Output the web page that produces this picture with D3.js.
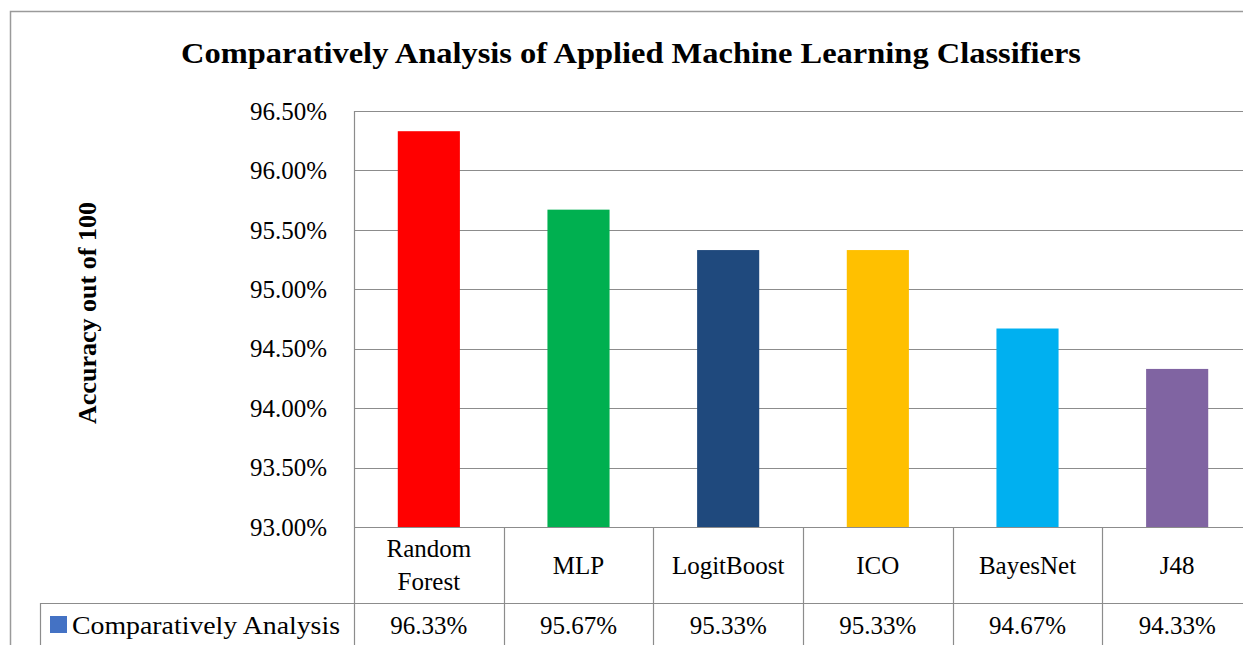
<!DOCTYPE html>
<html lang="en">
<head>
    <meta charset="UTF-8">
    <title>Comparatively Analysis of Applied Machine Learning Classifiers</title>
    <script src="https://d3js.org/d3.v7.min.js"></script>
    <style>
        body {
            margin: 0;
            background-color: white;
            overflow: hidden;
        }
        svg text {
            font-family: "Liberation Serif", "DejaVu Serif", serif;
            fill: #000;
        }
    </style>
</head>
<body>
    <div id="chart"></div>
    <script>
        // chart data
        const classifiers = ["Random Forest", "MLP", "LogitBoost", "ICO", "BayesNet", "J48"];
        const accuracy = [96.33, 95.67, 95.33, 95.33, 94.67, 94.33];
        const barColors = ["#ff0000", "#00b050", "#1f497d", "#ffc000", "#00b0f0", "#8064a2"];
        const yTicks = [93.0, 93.5, 94.0, 94.5, 95.0, 95.5, 96.0, 96.5];
        const seriesName = "Comparatively Analysis";

        const width = 1243;
        const height = 645;
        const plot = { left: 354, right: 1252, top: 111, bottom: 527 };
        const tableRow1 = 603;   // line between category row and value row
        const gridColor = "#8c8c8c";

        const svg = d3.select("#chart").append("svg")
            .attr("width", width)
            .attr("height", height);

        // outer frame
        svg.append("path")
            .attr("d", `M10.5,${height} V11.5 H${width}`)
            .attr("fill", "none")
            .attr("stroke", "#9a9a9a")
            .attr("stroke-width", 1.5);

        // title
        svg.append("text")
            .attr("x", 631)
            .attr("y", 63)
            .attr("text-anchor", "middle")
            .style("font-size", "29px")
            .style("font-weight", "bold")
            .attr("textLength", 900)
            .attr("lengthAdjust", "spacingAndGlyphs")
            .text("Comparatively Analysis of Applied Machine Learning Classifiers");

        const y = d3.scaleLinear()
            .domain([93, 96.5])
            .range([plot.bottom, plot.top]);

        const x = d3.scaleBand()
            .domain(classifiers)
            .range([plot.left, plot.right])
            .paddingInner(0.585)
            .paddingOuter(0.2925);

        const col = d3.scaleBand()
            .domain(classifiers)
            .range([plot.left, plot.right]);

        // gridlines
        svg.append("g")
            .selectAll("line")
            .data(yTicks)
            .join("line")
            .attr("x1", plot.left)
            .attr("x2", plot.right)
            .attr("y1", d => Math.round(y(d)) + 0.5)
            .attr("y2", d => Math.round(y(d)) + 0.5)
            .attr("stroke", gridColor)
            .attr("stroke-width", 1.2);

        // y axis line
        svg.append("line")
            .attr("x1", plot.left + 0.5).attr("x2", plot.left + 0.5)
            .attr("y1", plot.top).attr("y2", height)
            .attr("stroke", gridColor)
            .attr("stroke-width", 1.2);

        // tick labels
        svg.append("g")
            .selectAll("text")
            .data(yTicks)
            .join("text")
            .attr("x", 327)
            .attr("y", d => y(d))
            .attr("dy", "0.35em")
            .attr("text-anchor", "end")
            .style("font-size", "25px")
            .text(d => d.toFixed(2) + "%");

        // y axis title
        svg.append("text")
            .attr("transform", `translate(96,313) rotate(-90)`)
            .attr("text-anchor", "middle")
            .style("font-size", "25px")
            .style("font-weight", "bold")
            .attr("textLength", 222)
            .attr("lengthAdjust", "spacingAndGlyphs")
            .text("Accuracy out of 100");

        // bars
        svg.append("g")
            .selectAll("rect")
            .data(classifiers)
            .join("rect")
            .attr("x", d => x(d))
            .attr("width", x.bandwidth())
            .attr("y", (d, i) => y(accuracy[i]))
            .attr("height", (d, i) => y(93) - y(accuracy[i]))
            .attr("fill", (d, i) => barColors[i]);

        // data table: vertical lines
        svg.append("g")
            .selectAll("line")
            .data(classifiers.slice(1).map(c => col(c)).concat([plot.right]))
            .join("line")
            .attr("x1", d => Math.round(d) + 0.5)
            .attr("x2", d => Math.round(d) + 0.5)
            .attr("y1", plot.bottom)
            .attr("y2", height)
            .attr("stroke", gridColor)
            .attr("stroke-width", 1.2);

        // legend cell borders
        svg.append("path")
            .attr("d", `M40.5,${height} V${tableRow1 + 0.5} H${plot.right}`)
            .attr("fill", "none")
            .attr("stroke", gridColor)
            .attr("stroke-width", 1.2);

        // category labels
        const catLabels = svg.append("g")
            .selectAll("text")
            .data(classifiers)
            .join("text")
            .attr("x", d => col(d) + col.bandwidth() / 2)
            .attr("text-anchor", "middle")
            .style("font-size", "25px");

        catLabels.each(function(d) {
            const words = d.split(" ");
            const t = d3.select(this);
            const y0 = (plot.bottom + tableRow1) / 2 - (words.length - 1) * 16.5;
            words.forEach((w, i) => {
                t.append("tspan")
                    .attr("x", col(d) + col.bandwidth() / 2)
                    .attr("y", y0 + i * 33)
                    .attr("dy", "0.35em")
                    .text(w);
            });
        });

        // value row
        svg.append("g")
            .selectAll("text")
            .data(classifiers)
            .join("text")
            .attr("x", d => col(d) + col.bandwidth() / 2)
            .attr("y", 625)
            .attr("dy", "0.35em")
            .attr("text-anchor", "middle")
            .style("font-size", "25px")
            .text((d, i) => accuracy[i].toFixed(2) + "%");

        // legend key + series name
        svg.append("rect")
            .attr("x", 50)
            .attr("y", 616)
            .attr("width", 17)
            .attr("height", 17)
            .attr("fill", "#4472c4");

        svg.append("text")
            .attr("x", 72)
            .attr("y", 625)
            .attr("dy", "0.35em")
            .style("font-size", "25px")
            .attr("textLength", 268)
            .attr("lengthAdjust", "spacingAndGlyphs")
            .text(seriesName);
    </script>
</body>
</html>
